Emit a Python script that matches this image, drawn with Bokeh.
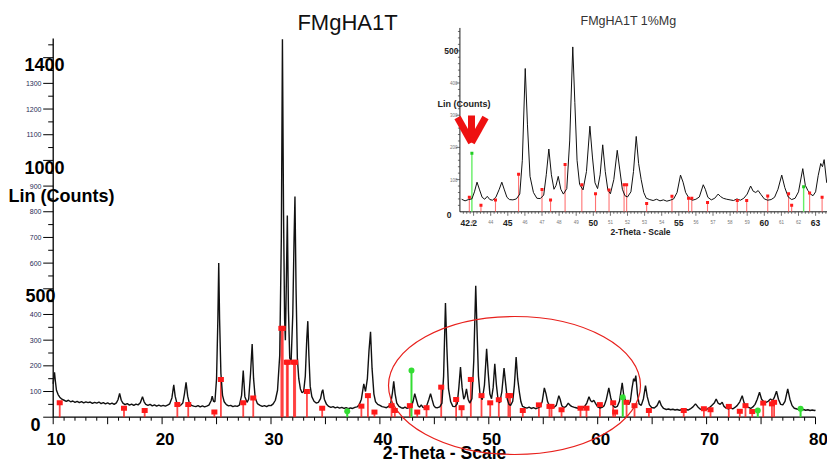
from bokeh.plotting import figure
from bokeh.models import Range1d
from bokeh.core.properties import value
from bokeh.embed import file_html
from bokeh.resources import INLINE

W, H = 827, 463
FONT = value("Liberation Sans")

# ---------------- measured scan (2-theta in degrees, intensity in counts) ----------------
scan_2theta = [
    10.0, 10.06, 10.12, 10.2, 10.3, 10.45, 10.6, 10.8, 11.0, 11.2,
    11.4, 11.6, 11.8, 12.0, 12.2, 12.4, 12.6, 12.8, 13.0, 13.2,
    13.4, 13.6, 13.8, 14.0, 14.2, 14.4, 14.6, 14.8, 15.0, 15.2,
    15.4, 15.6, 15.8, 15.95, 16.1, 16.25, 16.4, 16.6, 16.8, 17.0,
    17.2, 17.4, 17.6, 17.8, 18.0, 18.2, 18.35, 18.5, 18.7, 18.9,
    19.1, 19.3, 19.5, 19.7, 19.9, 20.1, 20.3, 20.5, 20.7, 20.9,
    21.07, 21.2, 21.35, 21.5, 21.7, 21.9, 22.05, 22.2, 22.35, 22.5,
    22.7, 22.9, 23.1, 23.3, 23.5, 23.7, 23.9, 24.1, 24.3, 24.5,
    24.6, 24.72, 24.85, 25.0, 25.12, 25.2, 25.28, 25.4, 25.55, 25.7,
    25.9, 26.1, 26.3, 26.5, 26.7, 26.9, 27.1, 27.3, 27.45, 27.6,
    27.8, 27.95, 28.12, 28.27, 28.4, 28.55, 28.75, 29.0, 29.2, 29.4,
    29.6, 29.8, 30.0, 30.2, 30.4, 30.6, 30.8, 30.95, 31.05, 31.15,
    31.25, 31.32, 31.4, 31.5, 31.6, 31.72, 31.85, 32.0, 32.12, 32.2,
    32.3, 32.42, 32.55, 32.7, 32.85, 33.0, 33.15, 33.28, 33.38, 33.48,
    33.6, 33.75, 33.95, 34.15, 34.35, 34.55, 34.68, 34.76, 34.9, 35.1,
    35.3, 35.5, 35.7, 35.9, 36.1, 36.3, 36.5, 36.7, 36.9, 37.1,
    37.3, 37.5, 37.7, 37.9, 38.1, 38.3, 38.52, 38.68, 38.85, 39.0,
    39.14, 39.28, 39.45, 39.6, 39.8, 40.0, 40.2, 40.4, 40.6, 40.8,
    41.0, 41.15, 41.27, 41.4, 41.55, 41.75, 41.95, 42.15, 42.3, 42.5,
    42.7, 42.9, 43.05, 43.2, 43.35, 43.5, 43.65, 43.8, 43.95, 44.1,
    44.3, 44.5, 44.65, 44.8, 44.95, 45.1, 45.3, 45.5, 45.7, 45.85,
    46.02, 46.15, 46.3, 46.5, 46.7, 46.9, 47.1, 47.25, 47.4, 47.55,
    47.7, 47.82, 47.95, 48.1, 48.25, 48.45, 48.62, 48.8, 48.92, 49.05,
    49.2, 49.4, 49.6, 49.8, 49.95, 50.1, 50.25, 50.4, 50.55, 50.7,
    50.85, 51.0, 51.2, 51.4, 51.55, 51.7, 51.85, 52.0, 52.2, 52.35,
    52.51, 52.65, 52.8, 52.95, 53.1, 53.3, 53.5, 53.7, 53.9, 54.1,
    54.3, 54.5, 54.7, 54.9, 55.1, 55.25, 55.4, 55.6, 55.8, 56.0,
    56.2, 56.43, 56.55, 56.7, 56.9, 57.1, 57.3, 57.45, 57.6, 57.8,
    58.0, 58.2, 58.4, 58.6, 58.8, 59.0, 59.2, 59.35, 59.5, 59.64,
    59.8, 60.0, 60.2, 60.4, 60.6, 60.8, 61.02, 61.2, 61.4, 61.6,
    61.8, 62.0, 62.25, 62.4, 62.55, 62.7, 62.85, 63.0, 63.15, 63.3,
    63.4, 63.5, 63.65, 63.8, 64.0, 64.2, 64.39, 64.55, 64.75, 64.95,
    65.2, 65.45, 65.67, 65.85, 66.05, 66.3, 66.5, 66.7, 66.9, 67.1,
    67.3, 67.5, 67.7, 67.9, 68.1, 68.3, 68.5, 68.75, 68.98, 69.2,
    69.4, 69.6, 69.8, 70.0, 70.2, 70.45, 70.7, 70.88, 71.05, 71.25,
    71.43, 71.6, 71.8, 72.0, 72.2, 72.4, 72.6, 72.8, 73.05, 73.27,
    73.45, 73.65, 73.85, 74.05, 74.25, 74.45, 74.65, 74.86, 75.05, 75.25,
    75.45, 75.65, 75.87, 76.05, 76.2, 76.42, 76.6, 76.8, 77.0, 77.2,
    77.45, 77.65, 77.85, 78.05, 78.3, 78.5, 78.7, 78.9, 79.1, 79.3,
    79.5, 79.7, 79.9, 80.0,
]
scan_counts = [
    130, 160, 175, 140, 105, 88, 78, 70, 66, 62,
    66, 60, 63, 58, 62, 57, 61, 56, 60, 57,
    59, 54, 58, 55, 59, 53, 57, 52, 56, 51,
    55, 50, 56, 68, 93, 66, 55, 49, 53, 47,
    51, 46, 51, 48, 56, 80, 60, 50, 46, 50,
    44, 48, 43, 47, 43, 46, 43, 47, 52, 75,
    126, 82, 56, 48, 46, 55, 90, 136, 82, 55,
    46, 43, 41, 45, 40, 44, 40, 43, 47, 64,
    82, 62, 60, 150, 380, 600, 380, 170, 85, 60,
    49, 44, 46, 41, 44, 42, 47, 85, 182, 80,
    58, 70, 170, 285, 150, 75, 53, 46, 42, 45,
    41, 46, 45, 52, 66, 105, 240, 700, 1472, 800,
    380, 300, 500, 785, 420, 230, 220, 400, 700, 859,
    500, 230, 150, 110, 95, 100, 160, 300, 374, 240,
    120, 80, 62, 55, 58, 72, 100, 107, 70, 50,
    42, 38, 41, 36, 39, 35, 38, 34, 37, 33,
    36, 34, 38, 40, 48, 70, 130, 100, 150, 260,
    333, 190, 90, 60, 50, 46, 41, 39, 37, 42,
    55, 95, 140, 90, 55, 42, 37, 35, 39, 34,
    38, 40, 62, 92, 68, 45, 39, 48, 38, 36,
    45, 70, 92, 68, 45, 38, 37, 40, 55, 160,
    445, 270, 110, 60, 42, 41, 52, 115, 195, 115,
    70, 82, 110, 70, 55, 72, 220, 512, 340, 160,
    85, 68, 125, 266, 170, 90, 72, 115, 208, 125,
    68, 56, 100, 191, 130, 70, 50, 46, 62, 125,
    234, 150, 100, 60, 42, 38, 35, 39, 34, 37,
    33, 36, 40, 60, 114, 92, 60, 42, 36, 39,
    46, 84, 70, 45, 37, 42, 55, 47, 42, 39,
    37, 35, 40, 36, 42, 55, 80, 64, 60, 66,
    54, 40, 36, 38, 45, 70, 114, 75, 46, 38,
    42, 62, 134, 82, 66, 55, 50, 62, 112, 150,
    140, 162, 90, 52, 46, 72, 123, 80, 48, 38,
    36, 45, 65, 45, 34, 30, 32, 29, 31, 28,
    30, 27, 29, 27, 30, 28, 32, 40, 52, 40,
    32, 30, 33, 30, 35, 45, 55, 71, 55, 50,
    58, 42, 35, 33, 36, 32, 38, 45, 60, 84,
    55, 40, 38, 34, 40, 50, 70, 97, 70, 60,
    58, 62, 71, 65, 75, 101, 70, 50, 48, 62,
    110, 70, 45, 35, 32, 30, 28, 30, 27, 29,
    26, 28, 26, 27,
]

# ---------------- reference pattern sticks ----------------
ref_red_2theta = [
    10.6, 16.5, 18.4, 21.4, 22.4, 24.8, 25.4, 27.45, 28.37, 30.95,
    31.08, 31.45, 31.55, 32.1, 32.22, 33.3, 34.7, 38.3, 38.9, 39.5,
    41.07, 41.37, 42.75, 43.43, 44.28, 45.63, 47.0, 47.5, 48.35, 49.33,
    50.13, 50.92, 51.8, 51.95, 53.12, 54.6, 55.57, 55.76, 56.68, 58.42,
    58.97, 60.2, 61.42, 61.6, 62.65, 63.38, 64.7, 67.9, 69.75, 70.36,
    72.04, 73.05, 73.57, 74.19, 75.2, 76.0, 76.2,
]
ref_red_counts = [
    56, 35, 26, 49, 49, 20, 147, 56, 75, 346,
    346, 214, 214, 214, 214, 100, 35, 43, 84, 20,
    45, 26, 45, 20, 37, 117, 69, 37, 147, 84,
    56, 68, 84, 84, 26, 48, 42, 42, 29, 35,
    35, 49, 56, 20, 58, 45, 26, 26, 33, 29,
    42, 23, 45, 22, 55, 52, 58,
]
ref_green_2theta = [37.0, 42.9, 62.3, 74.7, 78.63]
ref_green_counts = [23, 182, 78, 26, 33]

# axis ticks and labels
x_tick_labels = [10, 20, 30, 40, 50, 60, 70, 80]
y_small_labels = [100, 200, 300, 400, 600, 700, 800, 900, 1100, 1200, 1300]
y_big_labels = [0, 500, 1000, 1400]
inset_x_bold_labels = [45, 50, 55, 60, 63]
inset_x_small_labels = [43, 44, 46, 47, 48, 49, 51, 52, 53, 54, 56, 57, 58, 59, 61, 62]
inset_y_small_labels = [100, 200, 300, 400]
inset_y_bold_labels = [0, 500]
INSET_T_MIN, INSET_T_MAX = 42.2, 63.7

# ---------------- pixel geometry of the main panel ----------------
MX0, MPD = 52.7, 10.89       # px of 10 deg, px per degree
MY0, MPC = 416.7, 0.2568     # px of 0 counts, px per count


def mt(px):
    return 10 + (px - MX0) / MPD


def mc(py):
    return (MY0 - py) / MPC


# ---------------- pixel geometry of the zoomed panel ----------------
IX45, IPD = 507.3, 17.1      # px of 45 deg, px per degree
IY0, IPC = 211.3, 0.322      # px of 0 counts, px per count


def it(px):
    return 45 + (px - IX45) / IPD


def ic(py):
    return (IY0 - py) / IPC


p = figure(width=W, height=H,
           x_range=Range1d(mt(0), mt(W)), y_range=Range1d(mc(H), mc(0)),
           output_backend="svg", toolbar_location=None,
           x_axis_location=None, y_axis_location=None, min_border=0)
p.grid.grid_line_color = None
p.outline_line_color = None
p.background_fill_color = "white"
p.border_fill_color = "white"
p.extra_x_ranges = {"ix": Range1d(it(0), it(W))}
p.extra_y_ranges = {"iy": Range1d(ic(H), ic(0))}
IN = dict(x_range_name="ix", y_range_name="iy")

RED = "#ff1a1a"
GREEN = "#33dd33"

# ================= main panel =================
# axes
p.segment(x0=[10, 10], y0=[0, 0], x1=[80, 10], y1=[0, 1475], line_color="black", line_width=1.3)
xt = list(range(10, 81))
xlen = [(7 if t % 5 == 0 else 3.5) / MPC for t in xt]
p.segment(x0=xt, y0=[0] * len(xt), x1=xt, y1=[-l for l in xlen], line_color="black", line_width=1)
yt = list(range(0, 1451, 50))
ylen = [(10 if v % 100 == 0 else 5) / MPD for v in yt]
p.segment(x0=[10] * len(yt), y0=yt, x1=[10 - l for l in ylen], y1=yt, line_color="black", line_width=1)

# reference sticks
p.segment(x0=ref_red_2theta, y0=[0] * len(ref_red_2theta), x1=ref_red_2theta, y1=ref_red_counts,
          line_color=RED, line_width=1.8, line_alpha=0.8)
p.segment(x0=ref_green_2theta, y0=[0] * len(ref_green_2theta), x1=ref_green_2theta, y1=ref_green_counts,
          line_color=GREEN, line_width=2)

# scan
p.line(scan_2theta, scan_counts, line_color="#111111", line_width=1.4)

p.rect(x=ref_red_2theta, y=ref_red_counts, width=6, height=5, width_units="screen",
       height_units="screen", fill_color=RED, line_color=None)
p.scatter(x=ref_green_2theta, y=ref_green_counts, size=6, marker="circle",
          fill_color=GREEN, line_color=None)

# tick labels
p.text(x=[t + 3 / MPD for t in x_tick_labels], y=[mc(438)] * len(x_tick_labels),
       text=[str(t) for t in x_tick_labels], text_font=FONT, text_font_style="bold",
       text_font_size="17px", text_align="center", text_baseline="middle", text_color="black")
p.text(x=[mt(41)] * len(y_small_labels), y=y_small_labels, text=[str(v) for v in y_small_labels],
       text_font=FONT, text_font_size="7px", text_align="right", text_baseline="middle",
       text_color="#2a2a55")
big_left_px = [30, 25, 24, 24]
p.text(x=[mt(px) for px in big_left_px], y=[v - 7 / MPC for v in y_big_labels],
       text=[str(v) for v in y_big_labels], text_font=FONT, text_font_style="bold",
       text_font_size="18px", text_align="left", text_baseline="middle", text_color="black")

# axis titles and chart title
p.text(x=[mt(8)], y=[mc(195)], text=["Lin (Counts)"], text_font=FONT, text_font_style="bold",
       text_font_size="18px", text_align="left", text_baseline="middle", text_color="black")
p.text(x=[mt(444)], y=[mc(452)], text=["2-Theta - Scale"], text_font=FONT, text_font_style="bold",
       text_font_size="17.5px", text_align="center", text_baseline="middle", text_color="black")
p.text(x=[mt(347)], y=[mc(22)], text=["FMgHA1T"], text_font=FONT,
       text_font_size="22px", text_align="center", text_baseline="middle", text_color="#111111")

# highlighted 2-theta window
p.ellipse(x=[mt(514)], y=[mc(385)], width=[252 / MPD], height=[138 / MPC],
          fill_color=None, line_color="#e8201c", line_width=1.2)

# ================= zoomed panel (42.2 - 63.7 deg) =================
in_t = [t for t in scan_2theta if INSET_T_MIN <= t <= INSET_T_MAX]
in_c = [c for t, c in zip(scan_2theta, scan_counts) if INSET_T_MIN <= t <= INSET_T_MAX]
in_red = [(t, c) for t, c in zip(ref_red_2theta, ref_red_counts) if INSET_T_MIN <= t <= INSET_T_MAX]
in_green = [(t, c) for t, c in zip(ref_green_2theta, ref_green_counts) if INSET_T_MIN <= t <= INSET_T_MAX]

p.segment(x0=[INSET_T_MIN, INSET_T_MIN], y0=[0, 0], x1=[INSET_T_MAX, INSET_T_MIN], y1=[0, 571],
          line_color="black", line_width=0.9, **IN)
ixt = [round(INSET_T_MIN + 0.2 * i, 1) for i in range(1, 108)]
ixl = [(4 if abs(t - round(t)) < 1e-6 else 2) / IPC for t in ixt]
p.segment(x0=ixt, y0=[0] * len(ixt), x1=ixt, y1=[-l for l in ixl], line_color="#333333",
          line_width=0.7, **IN)
iyt = list(range(20, 561, 20))
iyl = [(4 if v % 100 == 0 else 2) / IPD for v in iyt]
p.segment(x0=[INSET_T_MIN] * len(iyt), y0=iyt, x1=[INSET_T_MIN - l for l in iyl], y1=iyt,
          line_color="#333333", line_width=0.7, **IN)

p.segment(x0=[t for t, _ in in_red], y0=[0] * len(in_red), x1=[t for t, _ in in_red],
          y1=[c for _, c in in_red], line_color="#ff5050", line_width=1.1, line_alpha=0.8, **IN)
p.segment(x0=[t for t, _ in in_green], y0=[0] * len(in_green), x1=[t for t, _ in in_green],
          y1=[c for _, c in in_green], line_color="#66ee66", line_width=1.4, **IN)
p.line(in_t, in_c, line_color="#111111", line_width=1.0, **IN)
p.rect(x=[t for t, _ in in_red], y=[c for _, c in in_red], width=3, height=3, width_units="screen",
       height_units="screen", fill_color=RED, line_color=None, **IN)
p.rect(x=[t for t, _ in in_green], y=[c for _, c in in_green], width=3, height=3, width_units="screen",
       height_units="screen", fill_color="#22cc22", line_color=None, **IN)

# zoomed panel labels
p.text(x=[it(460)], y=[ic(222)], text=["42.2"], text_font=FONT, text_font_style="bold",
       text_font_size="8.5px", text_align="left", text_baseline="middle", text_color="#222222", **IN)
p.text(x=inset_x_bold_labels, y=[ic(222)] * len(inset_x_bold_labels),
       text=[str(v) for v in inset_x_bold_labels], text_font=FONT, text_font_style="bold",
       text_font_size="8.5px", text_align="center", text_baseline="middle", text_color="#222222", **IN)
p.text(x=inset_x_small_labels, y=[ic(221)] * len(inset_x_small_labels),
       text=[str(v) for v in inset_x_small_labels], text_font=FONT,
       text_font_size="4.5px", text_align="center", text_baseline="middle", text_color="#777777", **IN)
p.text(x=[it(457)] * len(inset_y_small_labels), y=inset_y_small_labels,
       text=[str(v) for v in inset_y_small_labels], text_font=FONT,
       text_font_size="4.5px", text_align="right", text_baseline="middle", text_color="#777777", **IN)
p.text(x=[it(458), it(451)], y=[500, -3 / IPC], text=[str(v) for v in inset_y_bold_labels[::-1]],
       text_font=FONT, text_font_style="bold", text_font_size="8.5px", text_align="right",
       text_baseline="middle", text_color="#222222", **IN)
p.text(x=[it(437)], y=[ic(103)], text=["Lin (Counts)"], text_font=FONT, text_font_style="bold",
       text_font_size="9px", text_align="left", text_baseline="middle", text_color="#222222", **IN)
p.text(x=[it(640)], y=[ic(231)], text=["2-Theta - Scale"], text_font=FONT, text_font_style="bold",
       text_font_size="8.5px", text_align="center", text_baseline="middle", text_color="#222222", **IN)
p.text(x=[it(628)], y=[ic(20)], text=["FMgHA1T 1%Mg"], text_font=FONT,
       text_font_size="12.5px", text_align="center", text_baseline="middle", text_color="#333333", **IN)

# arrow pointing at the 43 deg reflection
p.multi_line(xs=[[it(457), it(471)], [it(485), it(471)], [it(471), it(471)]],
             ys=[[ic(117), ic(142)], [ic(117), ic(142)], [ic(115), ic(137)]],
             line_color="#ee1111", line_width=7, line_join="miter", **IN)

open("out.html", "w").write(file_html(p, INLINE))
